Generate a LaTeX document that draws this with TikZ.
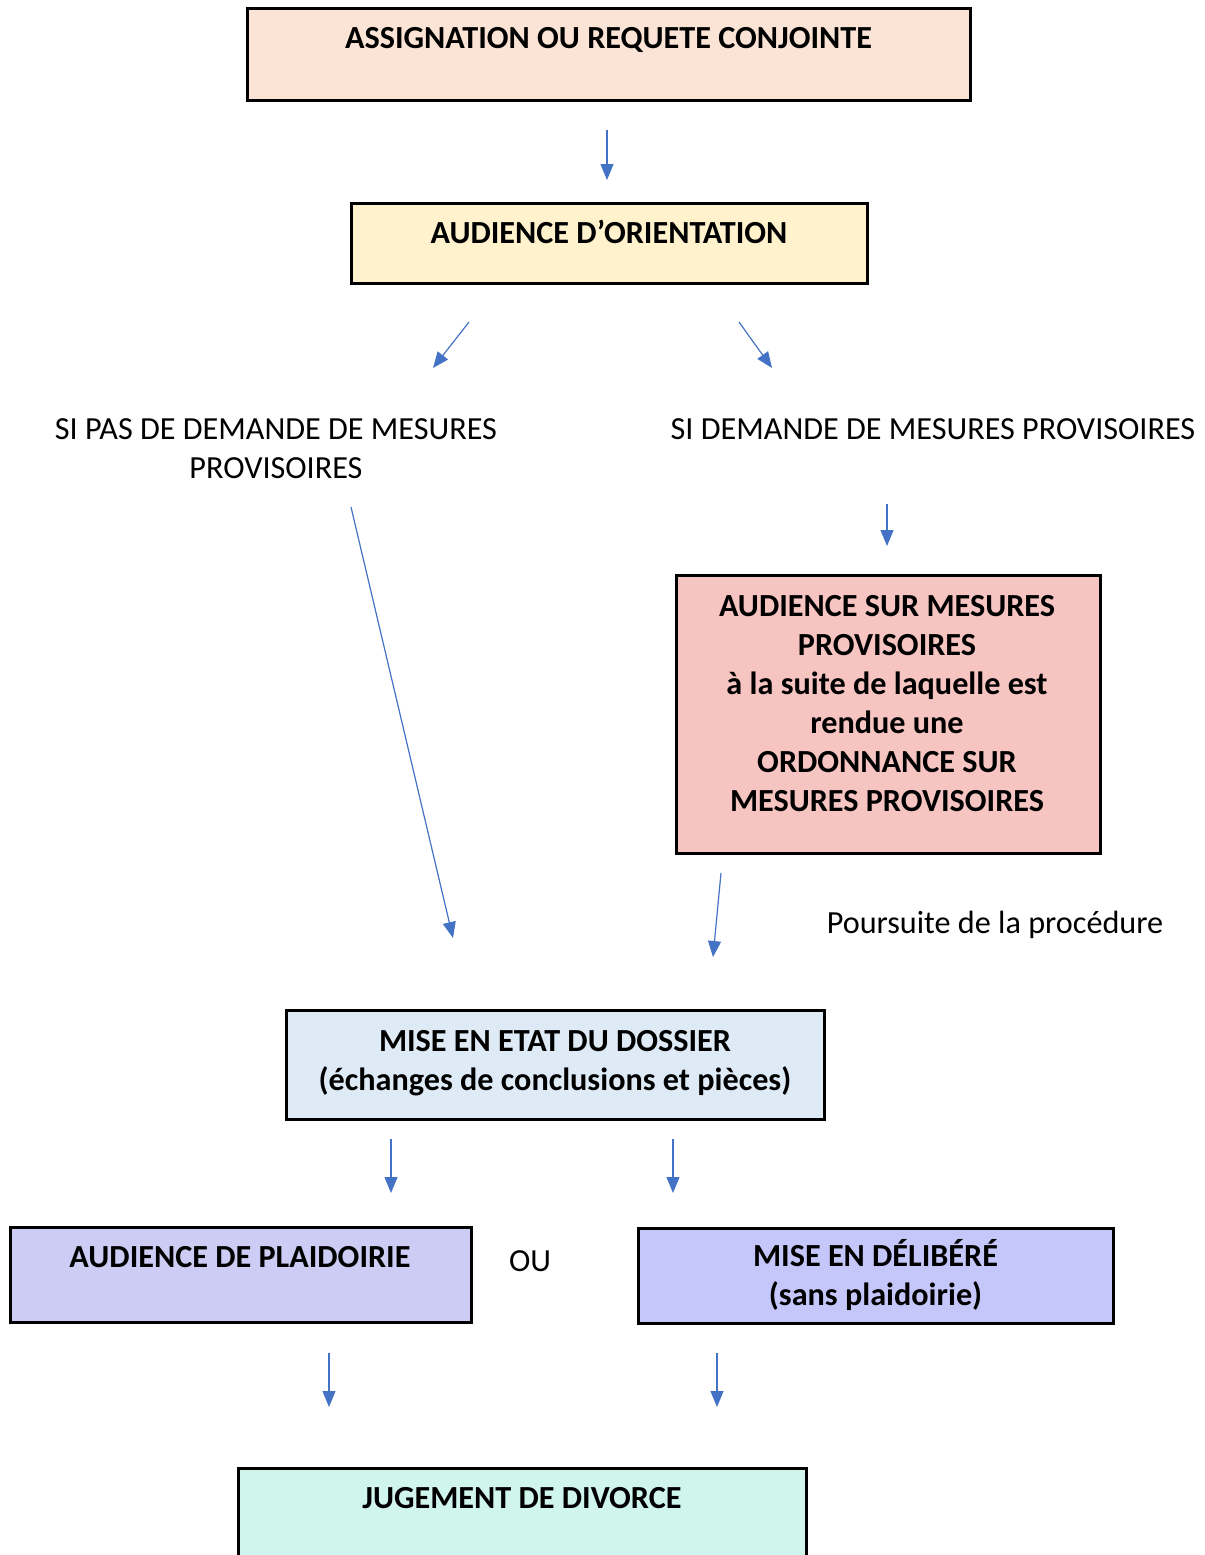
\documentclass[tikz,border=0pt]{standalone}
\usepackage{fontspec}
\setmainfont{Carlito}
\usetikzlibrary{arrows.meta,fit}
\definecolor{cpeach}{HTML}{FBE4D5}
\definecolor{cyellow}{HTML}{FFF2CC}
\definecolor{cpink}{HTML}{F6C4C1}
\definecolor{cblue}{HTML}{DEEBF7}
\definecolor{clavA}{HTML}{CCCCF4}
\definecolor{clavB}{HTML}{C5C7FA}
\definecolor{cmint}{HTML}{D0F5EC}
\definecolor{carrow}{HTML}{4472C4}
\tikzset{
  boxst/.style={draw=black, line width=1.5pt, inner sep=0pt, rectangle},
  bt/.style={font=\fontsize{16.1}{19.5}\selectfont\bfseries, inner sep=0pt, anchor=base, align=center},
  rt/.style={font=\fontsize{16.1}{19.5}\selectfont, inner sep=0pt, anchor=base, align=center},
  arr/.style={draw=carrow, line width=0.6pt, -{Triangle[length=8pt,width=6.5pt,fill=carrow]}}
}
\begin{document}
\begin{tikzpicture}[x=0.5pt,y=-0.5pt]
\useasboundingbox (0,0) rectangle (1205,1555);
% boxes (text anchored at the baseline of its last line)
\node[boxst, fill=cpeach, fit={(247,8) (970,100)}] (b1) {};
\node[bt] (t1) at (608.5,48) {ASSIGNATION OU REQUETE CONJOINTE};
\node[boxst, fill=cyellow, fit={(351,203) (867,283)}] (b2) {};
\node[bt] (t2) at (609,243) {AUDIENCE D’ORIENTATION};
\node[boxst, fill=cpink, fit={(676,575) (1100,853)}] (b3) {};
\node[bt] (t3) at (887,811) {AUDIENCE SUR MESURES\\PROVISOIRES\\à la suite de laquelle est\\rendue une\\ORDONNANCE SUR\\MESURES PROVISOIRES};
\node[boxst, fill=cblue, fit={(286,1010) (824,1119)}] (b4) {};
\node[bt] (t4) at (555,1090) {MISE EN ETAT DU DOSSIER\\(échanges de conclusions et pièces)};
\node[boxst, fill=clavA, fit={(10,1227) (471,1322)}] (b5) {};
\node[bt] (t5) at (240,1267) {AUDIENCE DE PLAIDOIRIE};
\node[boxst, fill=clavB, fit={(638,1228) (1113,1323)}] (b6) {};
\node[bt] (t6) at (875.5,1305) {MISE EN DÉLIBÉRÉ\\(sans plaidoirie)};
\node[boxst, fill=cmint, fit={(238,1468) (806,1580)}] (b7) {};
\node[bt] (t7) at (522,1508) {JUGEMENT DE DIVORCE};
% plain texts
\node[rt] (s1) at (276,478) {SI PAS DE DEMANDE DE MESURES\\PROVISOIRES};
\node[rt] (s2) at (933,439) {SI DEMANDE DE MESURES PROVISOIRES};
\node[rt] (s3) at (995,933) {Poursuite de la procédure};
\node[rt] (s4) at (530,1271) {OU};
% arrows
\coordinate (a1s) at (607,130); \coordinate (a1e) at (607,180);
\coordinate (a2s) at (469,322); \coordinate (a2e) at (433,368);
\coordinate (a3s) at (739,322); \coordinate (a3e) at (772,368);
\coordinate (a4s) at (887,504); \coordinate (a4e) at (887,546);
\coordinate (a5s) at (351,507); \coordinate (a5e) at (453,938);
\coordinate (a6s) at (721,873); \coordinate (a6e) at (713,957);
\coordinate (a7s) at (391,1139); \coordinate (a7e) at (391,1193);
\coordinate (a8s) at (673,1139); \coordinate (a8e) at (673,1193);
\coordinate (a9s) at (329,1353); \coordinate (a9e) at (329,1407);
\coordinate (a10s) at (717,1353); \coordinate (a10e) at (717,1407);
\foreach \i in {1,...,10} { \draw[arr] (a\i s) -- (a\i e); }
\end{tikzpicture}
\end{document}
